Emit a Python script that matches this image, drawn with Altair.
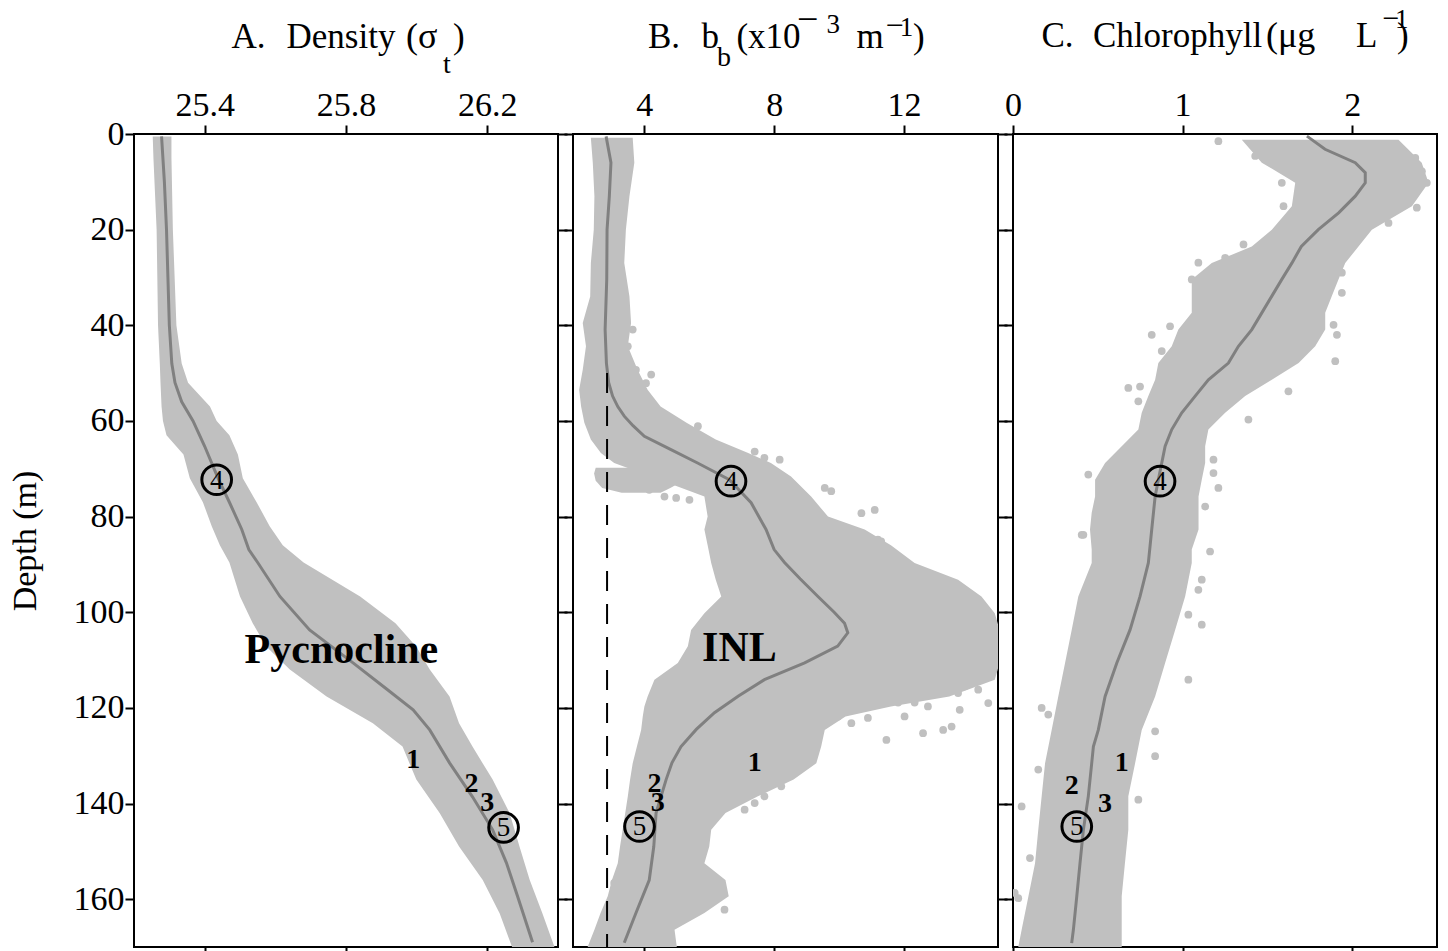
import altair as alt
import pandas as pd

FONT = "Liberation Serif"
GREY = "#c0c0c0"
LINE = "#808080"
DEPTH_TICKS = [0, 20, 40, 60, 80, 100, 120, 140, 160]
DEPTH_DOMAIN = [0, 170]

# ---------------- Panel A: density (sigma_t) ----------------
A_DOMAIN = [25.2, 26.4]
A_TICKS = [25.4, 25.8, 26.2]
A_band_depth = [0.5, 5, 20, 40, 48, 52, 57, 60, 63, 67, 72, 77, 82, 86,
                89.6, 96.7, 102.3, 107.2, 112, 117.6, 123.2, 128.1, 135, 142, 149, 156, 163, 170]
A_band_lo = [25.253, 25.255, 25.264, 25.268, 25.273, 25.275, 25.278, 25.282, 25.292, 25.34, 25.358, 25.395, 25.42, 25.443,
             25.47, 25.5, 25.536, 25.575, 25.641, 25.745, 25.876, 25.96, 25.999, 26.065, 26.12, 26.187, 26.235, 26.27]
A_band_hi = [25.306, 25.306, 25.31, 25.32, 25.335, 25.353, 25.415, 25.434, 25.47, 25.494, 25.508, 25.547, 25.584, 25.621,
             25.68, 25.84, 25.94, 25.999, 26.037, 26.093, 26.12, 26.158, 26.215, 26.263, 26.291, 26.32, 26.356, 26.39]
A_mean_depth = [0.5, 10, 20, 30, 40, 48, 52, 56, 60, 65.3, 72, 77, 82.7, 86.9, 89.6, 96.7, 103.7, 110.6, 116, 120.4,
                124.6, 131.5, 138.6, 145.5, 152.4, 159.5, 169]
A_mean_val = [25.278, 25.286, 25.292, 25.296, 25.30, 25.307, 25.316, 25.335, 25.367, 25.40, 25.438, 25.47, 25.505, 25.525,
              25.55, 25.613, 25.697, 25.82, 25.914, 25.99, 26.037, 26.093, 26.158, 26.215, 26.254, 26.286, 26.328]
A_lab_text = ["1", "2", "3"]
A_lab_val = [25.99, 26.155, 26.2]
A_lab_depth = [130.9, 136.0, 139.9]
A_circ_text = ["4", "5"]
A_circ_val = [25.434, 26.246]
A_circ_depth = [72.3, 145.0]
A_big_text = ["Pycnocline"]
A_big_val = [25.787]
A_big_depth = [107.8]

# ---------------- Panel B: backscatter b_b ----------------
B_DOMAIN = [1.8, 14.9]
B_TICKS = [4, 8, 12]
B_main_depth = [0.8, 6, 13, 20, 27, 34, 39.5, 44.4, 49.3, 53.5,
                57, 60.4, 63.9, 66.7, 68.8, 71.6, 75.8, 80, 82.7, 86,
                89.7, 93.2, 96.7, 100.2, 103.7, 107.1, 110.6, 114.1, 117.6, 119.7,
                121.8, 124.6, 128.1, 131.6, 135, 138.5, 142, 145.5, 149, 152.5,
                156, 159.4, 162.9, 166.4, 170]
B_main_lo = [2.35, 2.41, 2.46, 2.44, 2.35, 2.33, 2.10, 2.20, 2.10, 1.99,
             2.05, 2.15, 2.35, 2.66, 3.07, 4.2, 5.85, 5.95, 5.85, 5.95,
             6.06, 6.2, 6.37, 5.85, 5.44, 5.34, 5.03, 4.31, 4.10, 4.0,
             3.95, 3.90, 3.77, 3.64, 3.56, 3.49, 3.41, 3.33, 3.25, 3.18,
             3.0, 2.87, 2.65, 2.46, 2.25]
B_main_hi = [3.64, 3.69, 3.54, 3.43, 3.38, 3.54, 3.59, 3.49, 3.79, 4.10,
             4.5, 5.3, 6.2, 7.2, 7.9, 8.52, 9.14, 9.66, 10.79, 11.6,
             12.33, 13.67, 14.39, 14.8, 14.95, 14.95, 14.95, 14.8, 13.4, 11.6,
             10.2, 9.56, 9.45, 9.3, 8.6, 7.5, 6.5, 6.06, 6.0, 5.85,
             6.5, 6.6, 5.85, 4.93, 5.0]
B_lb_depth = [69.8, 71, 72.5, 74, 75]
B_lb_lo = [2.5, 2.45, 2.5, 2.7, 3.3]
B_lb_hi = [4.2, 5.0, 5.2, 4.8, 4.5]
B_mean_depth = [0.5, 6, 13, 20, 30.4, 40.9, 47.9, 52, 54.8, 57,
                59, 61, 63.2, 66, 68.8, 72.3, 77.1, 82.7, 86.9, 89.6,
                93, 96.7, 100, 102.3, 104.3, 107.1, 110.6, 114.1, 117.5, 121,
                124.5, 128.1, 131.5, 135, 142, 149, 156, 162.9, 169.1]
B_mean_val = [2.82, 2.97, 2.92, 2.85, 2.84, 2.79, 2.83, 2.9, 3.02, 3.18,
              3.38, 3.65, 4.0, 4.82, 5.64, 6.62, 7.29, 7.75, 8.0, 8.32,
              8.8, 9.35, 9.85, 10.17, 10.27, 9.96, 8.94, 7.7, 6.9, 6.16,
              5.6, 5.13, 4.85, 4.67, 4.36, 4.29, 4.15, 3.74, 3.38]
B_dot_val = [3.64, 3.49, 4.21, 3.74, 4.05, 4.62, 4.93, 5.65, 7.40, 7.70,
             8.17, 9.56, 9.76, 10.69, 11.1, 11.3, 4.15, 4.62, 4.98, 5.39,
             11.46, 12.59, 13.21, 13.47, 12.33, 12.02, 12.74, 13.72, 14.6, 14.29,
             13.88, 10.89, 10.38, 9.97, 11.56, 11.82, 13.67, 11.2, 8.22, 7.7,
             7.40, 7.09, 6.47, 3.07]
B_dot_depth = [40.9, 44.4, 50.3, 49.3, 52.1, 58.7, 60.4, 61.1, 66.4, 67.7,
               68.1, 74.0, 74.7, 79.3, 78.6, 85.2, 74.4, 75.8, 76.1, 76.5,
               126.7, 125.3, 124.6, 123.9, 118.9, 121.8, 119.7, 120.4, 119.0, 116.2,
               115.5, 122.1, 123.2, 121.8, 116.2, 118.9, 116.9, 84.8, 136.4, 138.5,
               139.9, 141.3, 162.2, 156.6]
B_lab_text = ["1", "2", "3"]
B_lab_val = [7.4, 4.31, 4.41]
B_lab_depth = [131.5, 136.0, 139.9]
B_circ_text = ["4", "5"]
B_circ_val = [6.67, 3.85]
B_circ_depth = [72.6, 144.8]
B_big_text = ["INL"]
B_big_val = [6.93]
B_big_depth = [107.5]
B_dash_val = [2.85]
B_dash_top = [50]
B_dash_bottom = [170]

# ---------------- Panel C: chlorophyll ----------------
C_DOMAIN = [0, 2.5]
C_TICKS = [0, 1, 2]
C_band_depth = [1.2, 6.0, 10.2, 15.1, 20, 23.5, 27, 30.4, 33.9, 37.4,
                40.9, 44.4, 47.9, 51.4, 54.8, 58.3, 61.8, 65.3, 68.8, 72.3,
                75.8, 79.2, 82.7, 86.9, 89.7, 96.7, 103.7, 110.6, 117.6, 124.6,
                131.6, 138.5, 145.5, 152.5, 159.4, 166.4, 170]
C_band_lo = [1.349, 1.467, 1.664, 1.644, 1.526, 1.408, 1.172, 1.054, 1.054, 1.054,
             0.975, 0.936, 0.857, 0.838, 0.798, 0.759, 0.739, 0.641, 0.543, 0.484,
             0.484, 0.464, 0.454, 0.464, 0.464, 0.385, 0.346, 0.307, 0.267, 0.228,
             0.189, 0.169, 0.149, 0.13, 0.091, 0.051, 0.031]
C_band_hi = [2.273, 2.41, 2.45, 2.352, 2.116, 2.037, 1.959, 1.919, 1.88, 1.841,
             1.841, 1.782, 1.684, 1.526, 1.369, 1.251, 1.152, 1.133, 1.133, 1.113,
             1.094, 1.094, 1.094, 1.054, 1.054, 1.015, 0.956, 0.897, 0.838, 0.759,
             0.72, 0.68, 0.68, 0.66, 0.641, 0.641, 0.641]
C_mean_depth = [0.45, 3.2, 6.0, 8.1, 10.2, 13, 16.5, 20, 23.5, 27,
                30.4, 33.9, 37.4, 40.9, 44.4, 47.9, 51.4, 54.8, 58.3, 61.8,
                65.3, 68.8, 72.3, 75.8, 82.7, 89.7, 96.7, 103.7, 110.6, 117.6,
                124.6, 128.1, 131.6, 138.5, 145.5, 152.5, 159.4, 166.4, 169.2]
C_mean_val = [1.733, 1.84, 2.018, 2.077, 2.077, 2.018, 1.92, 1.80, 1.70, 1.644,
              1.585, 1.526, 1.467, 1.408, 1.329, 1.270, 1.152, 1.074, 0.995, 0.936,
              0.897, 0.877, 0.857, 0.838, 0.818, 0.798, 0.749, 0.69, 0.612, 0.543,
              0.503, 0.474, 0.464, 0.444, 0.415, 0.395, 0.376, 0.356, 0.346]
C_dot_val = [1.211, 1.428, 1.585, 1.585, 1.595, 2.372, 2.411, 2.44, 2.381, 2.214,
             2.254, 1.359, 1.093, 1.251, 1.054, 0.818, 0.926, 0.877, 0.680, 0.749,
             0.739, 0.444, 0.405, 1.919, 1.939, 1.939, 1.89, 1.91, 1.90, 1.624,
             1.388, 1.182, 1.182, 1.211, 1.133, 0.415, 1.162, 1.113, 1.093, 1.034,
             1.113, 1.034, 0.169, 0.208, 0.838, 0.838, 0.149, 0.739, 0.051, 0.1,
             0.031, 0.01]
C_dot_depth = [1.5, 4.6, 6.0, 10.2, 15.1, 5.0, 7.8, 10.2, 15.4, 18.6,
               15.1, 23.1, 26.9, 25.9, 30.4, 42.0, 40.2, 45.4, 53.1, 52.8,
               55.9, 71.2, 83.8, 26.9, 29.0, 33.2, 39.9, 42.0, 47.5, 53.8,
               59.7, 68.1, 70.9, 74.0, 77.9, 83.8, 87.3, 93.2, 95.3, 100.5,
               102.6, 114.1, 120.0, 121.4, 124.9, 130.1, 132.9, 139.2, 140.6, 151.4,
               159.8, 158.7]
C_lab_text = ["1", "2", "3"]
C_lab_val = [0.641, 0.346, 0.543]
C_lab_depth = [131.5, 136.4, 140.2]
C_circ_text = ["4", "5"]
C_circ_val = [0.867, 0.376]
C_circ_depth = [72.6, 144.8]

# ---------------- Panel titles (text pieces with sub/superscripts) ----------------
A_title_text = ["A.", "Density", "(\u03c3", "t", ")"]
B_title_text = ["B.", "b", "b", "(x10", "\u2212", "3", "m", "\u2212", "1", ")"]
C_title_text = ["C.", "Chlorophyll", "(\u03bcg", "L", "\u2212", "1", ")"]
# layout of the title pieces, in pixels relative to each panel's top-left corner
A_title_layout = dict(px=[97.5, 152.5, 272, 309.1, 319.1],
                      py=[-86, -86, -86, -61, -86],
                      fs=[35, 35, 36, 28, 35])
B_title_layout = dict(px=[75, 128.4, 144, 163.4, 224, 253.4, 283.4, 312.5, 326.7, 340],
                      py=[-86, -86, -68, -86, -102, -101, -86, -98.5, -97.6, -86],
                      fs=[35, 35, 28, 35, 38, 27, 35, 32, 27, 35])
C_title_layout = dict(px=[28.4, 80, 253, 343, 369.5, 382, 384],
                      py=[-87, -87, -87, -87, -106.5, -106, -87],
                      fs=[35, 35, 36, 35, 30, 27, 35])

HEIGHT = 813


def band_frame(parts):
    rows = []
    for name, dep, lo, hi in parts:
        for d, a, b in zip(dep, lo, hi):
            rows.append({"part": name, "depth": d, "lo": a, "hi": b})
    return pd.DataFrame(rows)


def make_panel(domain, ticks, fmt, width, bands, mean, dots, labs, circs, big, title, first,
               dash=None, right_ticks=True):
    xs = alt.Scale(domain=domain, nice=False, zero=False)
    ys = alt.Scale(domain=DEPTH_DOMAIN, reverse=True, nice=False, zero=False)

    x_top = alt.Axis(orient="top", values=ticks, format=fmt, title=None, labelPadding=3,
                     labelFlush=False, labelOverlap=False)
    x_bot = alt.Axis(orient="bottom", values=ticks, labels=False, title=None)
    y_kw = dict(orient="left", values=DEPTH_TICKS, labels=first, labelPadding=1,
                labelOverlap=False, labelFlush=False)
    if first:
        y_kw["title"] = "Depth (m)"
        y_kw["titlePadding"] = 31
    else:
        y_kw["title"] = None
    y_left = alt.Axis(**y_kw)
    y_right = alt.Axis(orient="right", values=DEPTH_TICKS, labels=False, title=None) if right_ticks else None

    layers = []
    layers.append(
        alt.Chart(band_frame(bands)).mark_area(orient="horizontal", color=GREY, opacity=1, clip=True).encode(
            x=alt.X("lo:Q", scale=xs, axis=x_top),
            x2="hi:Q",
            y=alt.Y("depth:Q", scale=ys, axis=y_left),
            detail="part:N",
        )
    )
    dot_df = pd.DataFrame({"val": dots[0], "depth": dots[1]}) if dots else pd.DataFrame({"val": [domain[0]], "depth": [-10]})
    layers.append(
        alt.Chart(dot_df).mark_circle(size=60, color=GREY, opacity=1, clip=True).encode(
            x=alt.X("val:Q", scale=xs, axis=x_bot),
            y=alt.Y("depth:Q", scale=ys, axis=y_right),
        )
    )
    layers.append(
        alt.Chart(pd.DataFrame({"val": mean[0], "depth": mean[1]})).mark_line(
            color=LINE, strokeWidth=3, clip=True).encode(
            x=alt.X("val:Q", scale=xs, axis=None),
            y=alt.Y("depth:Q", scale=ys, axis=None),
            order="depth:Q",
        )
    )
    if dash is not None:
        layers.append(
            alt.Chart(pd.DataFrame({"val": dash[0], "top": dash[1], "bot": dash[2]})).mark_rule(
                color="black", strokeWidth=2, strokeDash=[20, 13]).encode(
                x=alt.X("val:Q", scale=xs, axis=None),
                y=alt.Y("top:Q", scale=ys, axis=None),
                y2="bot:Q",
            )
        )
    circ_df = pd.DataFrame({"t": circs[0], "val": circs[1], "depth": circs[2]})
    layers.append(
        alt.Chart(circ_df).mark_point(shape="circle", size=880, filled=False, stroke="black",
                                      strokeWidth=3, opacity=1).encode(
            x=alt.X("val:Q", scale=xs, axis=None),
            y=alt.Y("depth:Q", scale=ys, axis=None),
        )
    )
    layers.append(
        alt.Chart(circ_df).mark_text(font=FONT, fontSize=27, color="black", baseline="middle", dy=1).encode(
            x=alt.X("val:Q", scale=xs, axis=None),
            y=alt.Y("depth:Q", scale=ys, axis=None),
            text="t:N",
        )
    )
    layers.append(
        alt.Chart(pd.DataFrame({"t": labs[0], "val": labs[1], "depth": labs[2]})).mark_text(
            font=FONT, fontSize=28, fontWeight="bold", color="black", baseline="middle").encode(
            x=alt.X("val:Q", scale=xs, axis=None),
            y=alt.Y("depth:Q", scale=ys, axis=None),
            text="t:N",
        )
    )
    if big is not None:
        layers.append(
            alt.Chart(pd.DataFrame({"t": big[0], "val": big[1], "depth": big[2]})).mark_text(
                font=FONT, fontSize=42, fontWeight="bold", color="black", baseline="middle").encode(
                x=alt.X("val:Q", scale=xs, axis=None),
                y=alt.Y("depth:Q", scale=ys, axis=None),
                text="t:N",
            )
        )
    tdf = pd.DataFrame({"t": title[0], **title[1]})
    layers.append(
        alt.Chart(tdf).mark_text(font=FONT, color="black", align="left", baseline="alphabetic").encode(
            x=alt.X("px:Q", scale=None, axis=None),
            y=alt.Y("py:Q", scale=None, axis=None),
            size=alt.Size("fs:Q", scale=None, legend=None),
            text="t:N",
        )
    )
    return alt.layer(*layers).resolve_scale(x="independent", y="independent").properties(
        width=width, height=HEIGHT)


pA = make_panel(A_DOMAIN, A_TICKS, ".1f", 424,
                [("a", A_band_depth, A_band_lo, A_band_hi)],
                (A_mean_val, A_mean_depth), None,
                (A_lab_text, A_lab_val, A_lab_depth),
                (A_circ_text, A_circ_val, A_circ_depth),
                (A_big_text, A_big_val, A_big_depth),
                (A_title_text, A_title_layout), True)
pB = make_panel(B_DOMAIN, B_TICKS, "d", 425,
                [("main", B_main_depth, B_main_lo, B_main_hi), ("lb", B_lb_depth, B_lb_lo, B_lb_hi)],
                (B_mean_val, B_mean_depth), (B_dot_val, B_dot_depth),
                (B_lab_text, B_lab_val, B_lab_depth),
                (B_circ_text, B_circ_val, B_circ_depth),
                (B_big_text, B_big_val, B_big_depth),
                (B_title_text, B_title_layout), False,
                dash=(B_dash_val, B_dash_top, B_dash_bottom))
pC = make_panel(C_DOMAIN, C_TICKS, "d", 424,
                [("c", C_band_depth, C_band_lo, C_band_hi)],
                (C_mean_val, C_mean_depth), (C_dot_val, C_dot_depth),
                (C_lab_text, C_lab_val, C_lab_depth),
                (C_circ_text, C_circ_val, C_circ_depth),
                None,
                (C_title_text, C_title_layout), False, right_ticks=False)

chart = alt.hconcat(pA, pB, pC, spacing=15, bounds="flush").properties(
    padding={"left": -1, "top": -7, "right": 0, "bottom": 0}
).configure(font=FONT).configure_view(
    stroke="black", strokeWidth=2
).configure_axis(
    labelFont=FONT, labelFontSize=34, labelColor="black",
    titleFont=FONT, titleFontSize=34, titleFontWeight="normal", titleColor="black",
    tickColor="black", tickWidth=2, tickSize=9, domain=False, grid=False,
)

chart.save("out.html", embed_options={"renderer": "svg", "actions": False})
